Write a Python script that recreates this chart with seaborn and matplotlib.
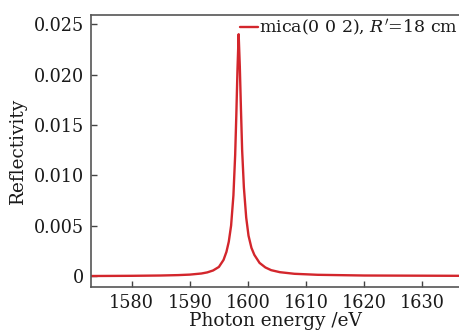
import matplotlib
matplotlib.use("Agg")
import matplotlib.pyplot as plt
import numpy as np
import pandas as pd
import seaborn as sns


# reflectivity curve (photon energy in eV)
energy = [1573.0, 1580.0, 1585.0, 1588.0, 1590.0, 1592.0, 1593.0, 1594.0, 1595.0,
          1595.8, 1596.3, 1596.7, 1597.1, 1597.5, 1597.8, 1598.0, 1598.2, 1598.4,
          1598.6, 1598.8, 1599.0, 1599.3, 1599.7, 1600.1, 1600.6, 1601.1, 1602.0,
          1603.0, 1604.0, 1605.5, 1608.0, 1612.0, 1620.0, 1636.5]
reflectivity = [0.00000, 0.00002, 0.00005, 0.00009, 0.00014, 0.00025, 0.00036, 0.00055, 0.00090,
                0.0016, 0.0024, 0.0034, 0.0050, 0.0080, 0.0120, 0.0160, 0.0205, 0.0240,
                0.0208, 0.0165, 0.0125, 0.0088, 0.0058, 0.0040, 0.0028, 0.0021, 0.0013,
                0.00085, 0.00058, 0.00038, 0.00022, 0.00012, 0.00005, 0.00002]
series_label = "mica(0 0 2), $R'$=18 cm"
x_ticks = [1580, 1590, 1600, 1610, 1620, 1630]
y_ticks = [0, 0.005, 0.010, 0.015, 0.020, 0.025]
y_tick_labels = ["0", "0.005", "0.010", "0.015", "0.020", "0.025"]

sns.set_style("ticks")
plt.rcParams["font.family"] = ["DejaVu Serif"]
plt.rcParams["mathtext.fontset"] = "dejavuserif"

df = pd.DataFrame({"energy": energy, "reflectivity": reflectivity})

fig = plt.figure(figsize=(4.6, 3.35), dpi=100)
ax = fig.add_axes([0.198, 0.143, 0.802, 0.812])
sns.lineplot(data=df, x="energy", y="reflectivity", ax=ax, color="#d3262c",
             linewidth=1.7, label=series_label)

ax.set_xlim(1573.0, 1636.5)
ax.set_ylim(-0.0011, 0.0259)
ax.set_xticks(x_ticks)
ax.set_yticks(y_ticks)
ax.set_yticklabels(y_tick_labels)
ax.tick_params(axis="both", direction="in", length=4, width=1, color="#444444",
               labelsize=12.7, labelcolor="#1a1a1a", pad=5)
ax.set_xlabel("Photon energy /eV", fontsize=13.3, color="#1a1a1a", labelpad=0)
ax.set_ylabel("Reflectivity", fontsize=13.3, color="#1a1a1a", labelpad=5)

for side in ["left", "bottom", "top"]:
    ax.spines[side].set_color("#555555")
    ax.spines[side].set_linewidth(1.2)
ax.spines["right"].set_visible(False)

leg = ax.legend(loc="upper left", bbox_to_anchor=(0.405, 0.99), frameon=False,
                fontsize=12.5, handlelength=1.0, handletextpad=0.08,
                borderpad=0.0, borderaxespad=0.0)
for t in leg.get_texts():
    t.set_color("#1a1a1a")

fig.savefig("out.png", dpi=100)
